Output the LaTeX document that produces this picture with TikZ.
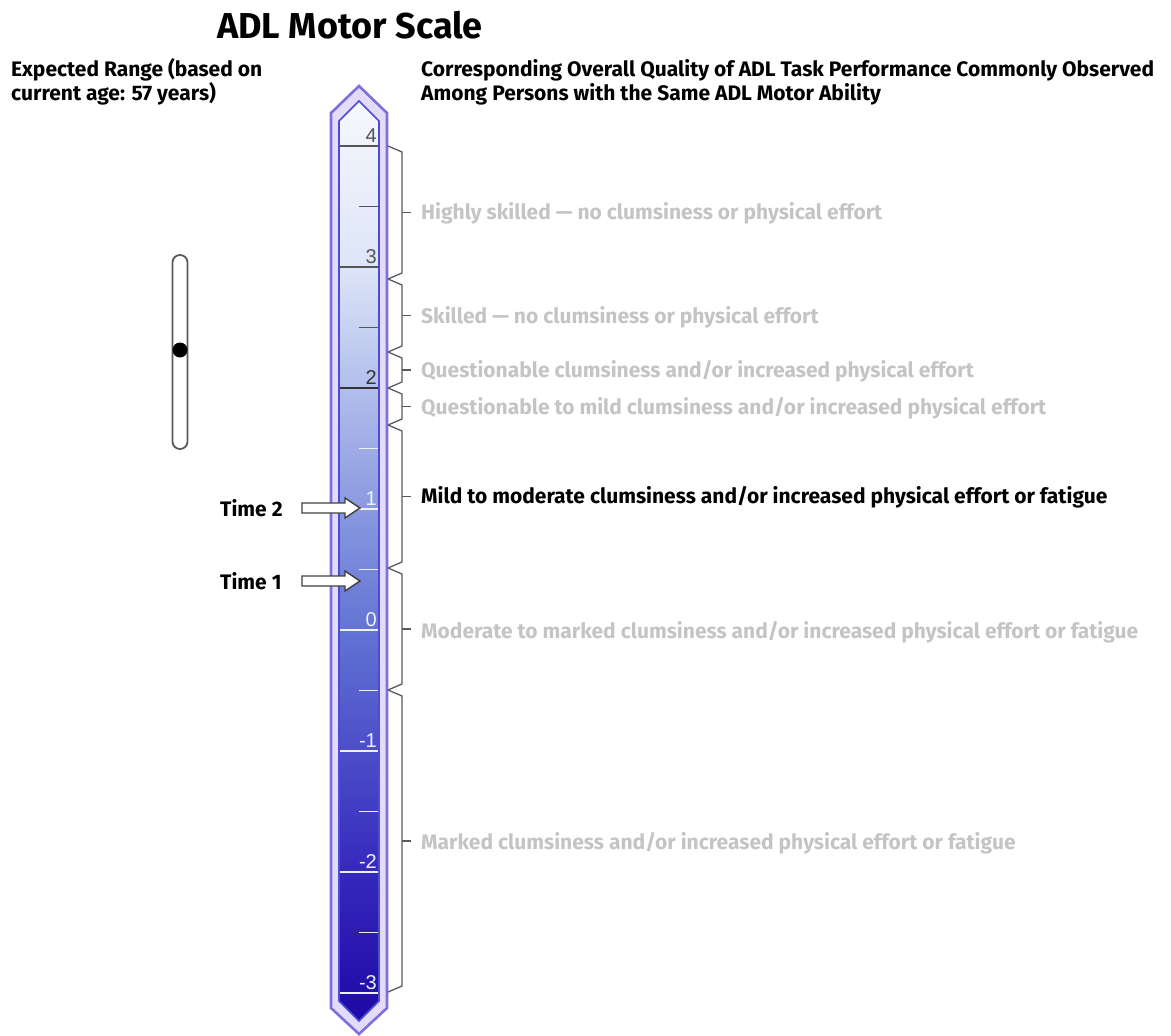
\documentclass[tikz,border=0pt]{standalone}
\usepackage{fontspec}
\setmainfont{Fira Sans}
\newfontfamily\numfont{Liberation Sans}
\definecolor{bT}{HTML}{F6F8FE}
\definecolor{bThree}{HTML}{DDE5F7}
\definecolor{bTwo}{HTML}{B2BEEC}
\definecolor{bZero}{HTML}{6273D4}
\definecolor{bMTwo}{HTML}{3528BC}
\definecolor{bB}{HTML}{1E08A6}
\definecolor{barOut}{HTML}{7E70DC}
\definecolor{barGap}{HTML}{E2DCFA}
\definecolor{barIn}{HTML}{4C4CD8}
\definecolor{labGray}{HTML}{C4C4C4}
\definecolor{braceGray}{HTML}{5A5A5A}
\definecolor{tickDark}{HTML}{555555}
\definecolor{tickLight}{HTML}{EEF0FF}
\pgfdeclareverticalshading{barshade}{100bp}{color(0bp)=(bB); color(25bp)=(bB); color(33bp)=(bMTwo); color(46.2bp)=(bZero); color(59.4bp)=(bTwo); color(66bp)=(bThree); color(75bp)=(bT); color(100bp)=(bT)}
\begin{document}
\begin{tikzpicture}[x=1pt,y=-1pt,
  title/.style={font=\fontsize{36}{40}\selectfont\bfseries, inner sep=0pt},
  head/.style={font=\fontsize{21}{24}\selectfont\bfseries, inner sep=0pt, anchor=base west},
  lab/.style={font=\fontsize{21}{24}\selectfont\bfseries, inner sep=0pt, anchor=base west, text=labGray},
  labon/.style={lab, text=black},
  timelab/.style={font=\fontsize{21}{24}\selectfont\bfseries, inner sep=0pt, anchor=base west},
  num/.style={font=\fontsize{20}{22}\selectfont\numfont, inner sep=0pt, anchor=south east},
  brace/.style={draw=braceGray, line width=1.3pt},
  tarrow/.style={draw=black!75, fill=white, line width=1.4pt, line join=miter},
]
\useasboundingbox (0,0) rectangle (1171,1036);

% title and headers
\node[title] (title) at (350,25) {ADL Motor Scale};
\node[head] (hleftA) at (11,76) {Expected Range (based on};
\node[head] (hleftB) at (11,100) {current age: 57 years)};
\node[head] (hrightA) at (421,76) {Corresponding Overall Quality of ADL Task Performance Commonly Observed};
\node[head] (hrightB) at (421,100) {Among Persons with the Same ADL Motor Ability};

% bar
\draw[line width=2.6pt, draw=barOut, fill=barGap, line join=miter]
  (331,113) -- (359,86) -- (387,113) -- (387,1008) -- (359,1034) -- (331,1008) -- cycle;
\draw[line width=1.6pt, draw=barIn, shading=barshade, line join=miter]
  (339,121) -- (359,101) -- (379,121) -- (379,1001) -- (359,1021) -- (339,1001) -- cycle;

% major ticks
\foreach \v/\c/\w in {4/tickDark/1.3pt, 3/tickDark/1.3pt, 2/black!80/2pt, 1/tickLight/1.3pt, 0/tickLight/1.3pt, -1/tickLight/1.3pt, -2/tickLight/1.3pt, -3/tickLight/1.3pt}{
  \pgfmathsetmacro{\yy}{146+(4-\v)*121}
  \draw[draw=\c, line width=\w] (340,\yy) -- (378,\yy);
}
% minor ticks
\foreach \v/\c in {3.5/tickDark, 2.5/tickDark, 1.5/tickLight, 0.5/tickLight, -0.5/tickLight, -1.5/tickLight, -2.5/tickLight}{
  \pgfmathsetmacro{\yy}{146+(4-\v)*121}
  \draw[draw=\c, line width=1.3pt] (359,\yy) -- (378,\yy);
}
% tick labels
\node[num, text=tickDark] (n4) at (377,143) {4};
\node[num, text=tickDark] (n3) at (377,264) {3};
\node[num, text=black!80] (n2) at (377,385) {2};
\node[num, text=tickLight] (n1) at (377,506) {1};
\node[num, text=tickLight] (n0) at (377,627) {0};
\node[num, text=tickLight] (nm1) at (377,748) {-1};
\node[num, text=tickLight] (nm2) at (377,869) {-2};
\node[num, text=tickLight] (nm3) at (377,990) {-3};

% braces
\foreach \a/\b in {146/279, 279/352, 352/388, 388/425, 425/568, 568/690, 690/992}{
  \draw[brace, line join=miter] (388,\a) -- (402,{\a+6}) -- (402,{\b-6}) -- (388,\b);
  \draw[brace] (402,{(\a+\b)/2}) -- (411,{(\a+\b)/2});
}

% labels
\node[lab] (l1) at (421,219) {Highly skilled — no clumsiness or physical effort};
\node[lab] (l2) at (421,323) {Skilled — no clumsiness or physical effort};
\node[lab] (l3) at (421,377) {Questionable clumsiness and/or increased physical effort};
\node[lab] (l4) at (421,414) {Questionable to mild clumsiness and/or increased physical effort};
\node[labon] (l5) at (421,503) {Mild to moderate clumsiness and/or increased physical effort or fatigue};
\node[lab] (l6) at (421,638) {Moderate to marked clumsiness and/or increased physical effort or fatigue};
\node[lab] (l7) at (421,849) {Marked clumsiness and/or increased physical effort or fatigue};

% expected range capsule
\draw[draw=black!65, line width=1.8pt, rounded corners=7.4pt] (172.5,255) rectangle (187.5,449);
\fill (180,350) circle[radius=7.5pt];

% time markers
\node[timelab] (t2) at (220,516) {Time 2};
\node[timelab] (t1) at (220,589) {Time 1};
\draw[tarrow] (302,503) -- (345,503) -- (345,498) -- (360,508) -- (345,518) -- (345,513) -- (302,513) -- cycle;
\draw[tarrow] (302,576) -- (345,576) -- (345,571) -- (360,581) -- (345,591) -- (345,586) -- (302,586) -- cycle;
\end{tikzpicture}
\end{document}
